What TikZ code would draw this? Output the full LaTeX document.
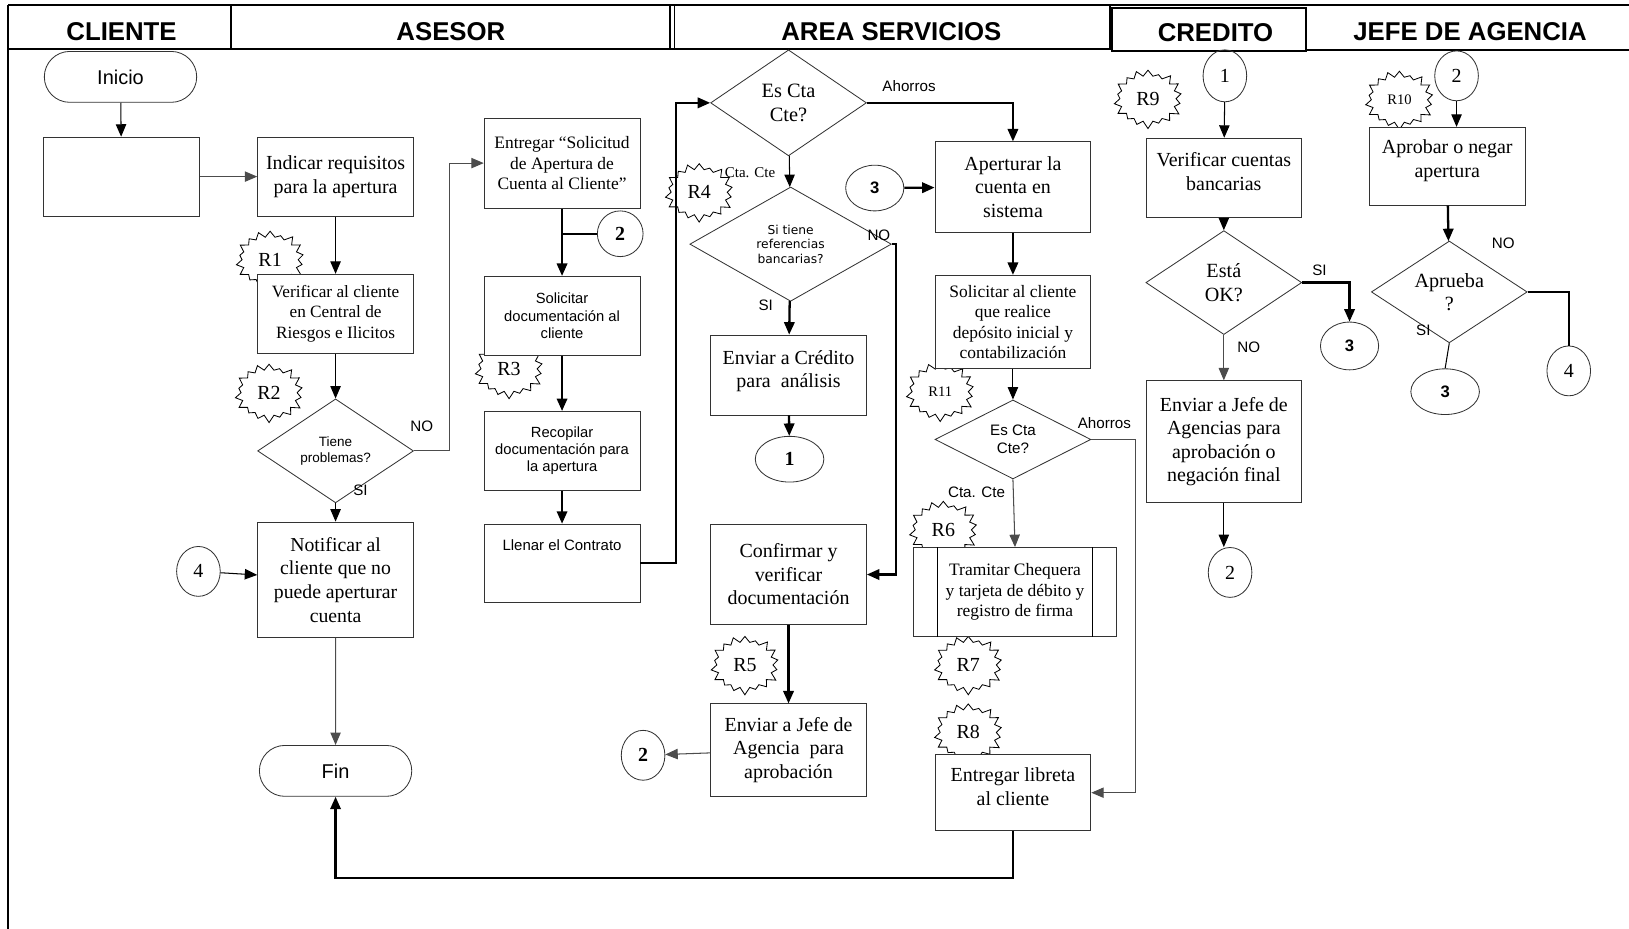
\documentclass[tikz,border=0pt]{standalone}
\usepackage{fontspec}
\setmainfont{Liberation Serif}
\setsansfont{Liberation Sans}
\newfontfamily\dejavu{DejaVu Sans}
\usetikzlibrary{shapes.geometric,shapes.misc,shapes.symbols,arrows.meta}

\tikzset{
  proc/.style={draw=black!80,fill=white,rectangle,align=center,inner sep=1pt,
    minimum width=75pt,minimum height=38pt,font=\fontsize{9.6}{11.3}\selectfont},
  procsm/.style={proc,font=\fontsize{8.4}{9.9}\selectfont},
  procsf/.style={proc,font=\sffamily\fontsize{7.1}{8.3}\selectfont},
  decision/.style={draw=black!80,fill=white,diamond,aspect=1.5,align=center,inner sep=0pt,
    minimum width=75pt,minimum height=50pt},
  term/.style={draw=black!80,rounded rectangle,minimum width=80pt,minimum height=24.5pt,
    font=\sffamily\fontsize{9.6}{11}\selectfont},
  conn/.style={draw=black!80,ellipse,inner sep=0pt,minimum width=21pt,minimum height=24pt,
    font=\fontsize{9.6}{11}\selectfont},
  connbf/.style={conn,font=\bfseries\fontsize{9.6}{11}\selectfont},
  connsf/.style={conn,font=\sffamily\bfseries\fontsize{8}{10}\selectfont},
  risk/.style={draw,fill=white,starburst,starburst points=18,starburst point height=4pt,
    random starburst=8,inner sep=0pt,minimum width=35pt,minimum height=30pt,
    font=\fontsize{9.6}{11}\selectfont},
  risksm/.style={risk,font=\fontsize{7}{8}\selectfont},
  lbl/.style={font=\sffamily\fontsize{7.3}{8}\selectfont,inner sep=0pt},
  lane/.style={font=\sffamily\bfseries\fontsize{12.4}{14}\selectfont},
  flow/.style={-{Triangle[width=5pt,length=6pt]},line width=0.5pt},
  flowk/.style={flow,line width=1.1pt},
  line/.style={line width=0.5pt},
  linek/.style={line width=1.1pt},
}

\begin{document}
\begin{tikzpicture}[x=0.5pt,y=-0.5pt]
\useasboundingbox (0,0) rectangle (1568,894);

% lanes header
\draw[line width=1.2pt] (8,5) -- (1568,5);
\draw[line width=1pt] (8,47) -- (1070,47) (1257,48) -- (1568,48);
\draw[line width=1pt] (8,5) -- (8,894);
\draw[line width=1pt] (222,5) -- (222,47);
\draw[line width=0.6pt] (645,5) -- (645,47) (649,5) -- (649,47);
\draw[line width=1pt] (1068,5) -- (1068,47);
\draw[line width=1pt] (1070,8) rectangle (1257,49);
\node[lane] at (117,30) {CLIENTE};
\node[lane] at (434,30) {ASESOR};
\node[lane] at (858,30) {AREA SERVICIOS};
\node[lane] at (1170,31) {CREDITO};
\node[lane] at (1415,30) {JEFE DE AGENCIA};

% riesgos
\node[risk] at (260,250) {R1};
\node[risk] at (259,378) {R2};
\node[risk] at (490,355) {R3};
\node[risk] at (673,185) {R4};
\node[risk] at (717,640) {R5};
\node[risk] at (908,510) {R6};
\node[risk] at (932,640) {R7};
\node[risk] at (932,705) {R8};
\node[risk] at (1105,95) {R9};
\node[risksm] at (1347,96) {R10};
\node[risksm] at (905,377) {R11};

% CLIENTE
\node[term] (inicio) at (116,74) {Inicio};
\node[proc] (blank) at (117,170) {};
\node[conn] (c4a) at (191,550) {4};

% ASESOR
\node[proc] (indicar) at (323,170) {Indicar requisitos\\para la apertura};
\node[proc,font=\fontsize{8.3}{9.8}\selectfont] (verif) at (323,302) {Verificar al cliente\\en Central de\\Riesgos e Ilicitos};
\node[decision,font=\sffamily\fontsize{6.5}{7.8}\selectfont] (tiene) at (323,434) {Tiene\\problemas?};
\node[proc,minimum height=55.5pt,font=\fontsize{9.5}{11.4}\selectfont] (notif) at (323,558) {Notificar al\\cliente que no\\puede aperturar\\cuenta};
\node[term] (fin) at (323,742) {Fin};
\node[procsm,minimum height=43.5pt] (entsol) at (541,157) {Entregar “Solicitud\\de Apertura de\\Cuenta al Cliente”};
\node[connbf,minimum width=22pt,minimum height=22pt] (c2a) at (597,225) {2};
\node[procsf] (soldoc) at (541,304) {Solicitar\\documentación al\\cliente};
\node[procsf] (recop) at (541,434) {Recopilar\\documentación para\\la apertura};
\node[proc,minimum height=37.5pt] (llenar) at (541,542) {};
\node[font=\sffamily\fontsize{7.2}{8.3}\selectfont,below=4pt] at (llenar.north) {Llenar el Contrato};

% AREA SERVICIOS
\node[decision,minimum height=51pt,font=\fontsize{9.8}{11.3}\selectfont] (escta1) at (759,99) {Es Cta\\Cte?};
\node[decision,minimum width=97pt,minimum height=55pt,font=\dejavu\fontsize{5.9}{7}\selectfont] (refs) at (761,235) {Si tiene\\referencias\\bancarias?};
\node[proc,minimum height=38.5pt] (envcred) at (759,361) {Enviar a Crédito\\para\ \ análisis\\[-5.3pt]};
\node[connbf,minimum width=33pt,minimum height=22pt] (c1a) at (760,442) {1};
\node[proc,minimum height=48.5pt] (confirm) at (759,553) {Confirmar y\\verificar\\documentación};
\node[proc,minimum height=44.5pt] (envjefe) at (759,722) {Enviar a Jefe de\\Agencia\ \ para\\aprobación};
\node[connbf,minimum width=21pt,minimum height=24pt] (c2b) at (619,727) {2};
\node[connsf,minimum width=28pt,minimum height=22pt] (c3a) at (842,181) {3};
\node[proc,minimum height=43.5pt] (apert) at (975,180) {Aperturar la\\cuenta en\\sistema};
\node[procsm,minimum height=45pt] (solcli) at (975,310) {Solicitar al cliente\\que realice\\depósito inicial y\\contabilización};
\node[decision,minimum height=38pt,aspect=2,font=\sffamily\fontsize{7.3}{8.6}\selectfont] (escta2) at (975,423) {Es Cta\\Cte?};
\node[procsm,minimum width=97.5pt,minimum height=43pt] (tramitar) at (977,570) {Tramitar Chequera\\y tarjeta de débito y\\registro de firma};
\draw[line width=0.5pt] ([xshift=11.5pt]tramitar.north west) -- ([xshift=11.5pt]tramitar.south west)
  ([xshift=-11.5pt]tramitar.north east) -- ([xshift=-11.5pt]tramitar.south east);
\node[proc,minimum height=36.5pt] (entlib) at (975,763) {Entregar libreta\\al cliente\\[-5.3pt]};

% CREDITO
\node[conn,minimum height=25pt] (c1b) at (1179,73) {1};
\node[proc] (vercta) at (1178,171) {Verificar cuentas\\bancarias\\[-5.3pt]};
\node[decision,font=\fontsize{9.7}{11.3}\selectfont] (estaok) at (1178,272) {Está\\OK?};
\node[connsf,minimum width=28pt,minimum height=23pt] (c3b) at (1299,333) {3};
\node[proc,minimum height=58.5pt] (envjefe2) at (1178,425) {Enviar a Jefe de\\Agencias para\\aprobación o\\negación final};
\node[conn] (c2c) at (1184,551) {2};

% JEFE DE AGENCIA
\node[conn] (c2d) at (1402,73) {2};
\node[proc,minimum height=37.5pt] (aprobar) at (1393,160) {Aprobar o negar\\apertura\\[-3.8pt]};
\node[decision,minimum height=49pt,font=\fontsize{9.7}{11.3}\selectfont] (aprueba) at (1395,281) {Aprueba\\?};
\node[connsf,minimum width=33pt,minimum height=22pt] (c3c) at (1391,377) {3};
\node[conn] (c4b) at (1510,357) {4};

% conectores
\draw[flow] (inicio) -- (blank);
\draw[flow,black!70] (blank) -- (indicar);
\draw[flow] (indicar) -- (verif);
\draw[flow] (verif) -- (tiene);
\draw[flow,black!70] (tiene.east) -- ++(34,0) |- (entsol.west);
\draw[flow] (tiene) -- (notif);
\draw[flow] (c4a) -- (notif);
\draw[flow,black!70] (notif) -- (fin);
\draw[flowk] (entlib.south) -- ++(0,45) -| (fin.south);
\draw[flowk] (entsol) -- (soldoc);
\draw[linek] (c2a.west) -- (c2a.west -| entsol.south);
\draw[flowk] (soldoc) -- (recop);
\draw[flowk] (recop) -- (llenar);
\draw[flowk] (llenar.east) -- ++(34,0) |- (escta1.west);
\draw[flowk] (escta1.east) -| (apert.north);
\draw[flow] (escta1) -- (refs);
\draw[flowk] (refs.east) -- ++(4,0) |- (confirm.east);
\draw[flowk] (refs) -- (envcred);
\draw[flowk] (envcred) -- (c1a);
\draw[flowk] (confirm) -- (envjefe);
\draw[flow,black!70] (envjefe) -- (c2b);
\draw[flowk] (c3a) -- (apert);
\draw[flowk] (apert) -- (solcli);
\draw[flow] (solcli) -- (escta2);
\draw[flow,black!70] (escta2.east) -- ++(43,0) |- (entlib.east);
\draw[flow,black!70] (escta2.south) -- (tramitar.north);
\draw[flow] (c1b) -- (vercta);
\draw[flow] (vercta) -- (estaok);
\draw[flowk] (estaok.east) -| (c3b.north);
\draw[flow,black!70] (estaok) -- (envjefe2);
\draw[flow] (envjefe2.south) -- (envjefe2.south |- c2c.north);
\draw[flow] (c2d.south) -- (c2d.south |- aprobar.north);
\draw[flowk] (aprobar) -- (aprueba);
\draw[linek] (aprueba.east) -| (c4b.north);
\draw[line] (aprueba.south) -- (c3c.north);

% etiquetas
\node[lbl] at (406,410) {NO};
\node[lbl] at (347,472) {SI};
\node[lbl] at (875,83) {Ahorros};
\node[lbl,font=\fontsize{7.2}{8}\selectfont] at (722,166) {Cta. Cte};
\node[lbl] at (846,226) {NO};
\node[lbl] at (737,294) {SI};
\node[lbl] at (1063,407) {Ahorros};
\node[lbl] at (940,474) {Cta. Cte};
\node[lbl] at (1270,260) {SI};
\node[lbl] at (1202,334) {NO};
\node[lbl] at (1447,234) {NO};
\node[lbl] at (1370,318) {SI};
\end{tikzpicture}
\end{document}
